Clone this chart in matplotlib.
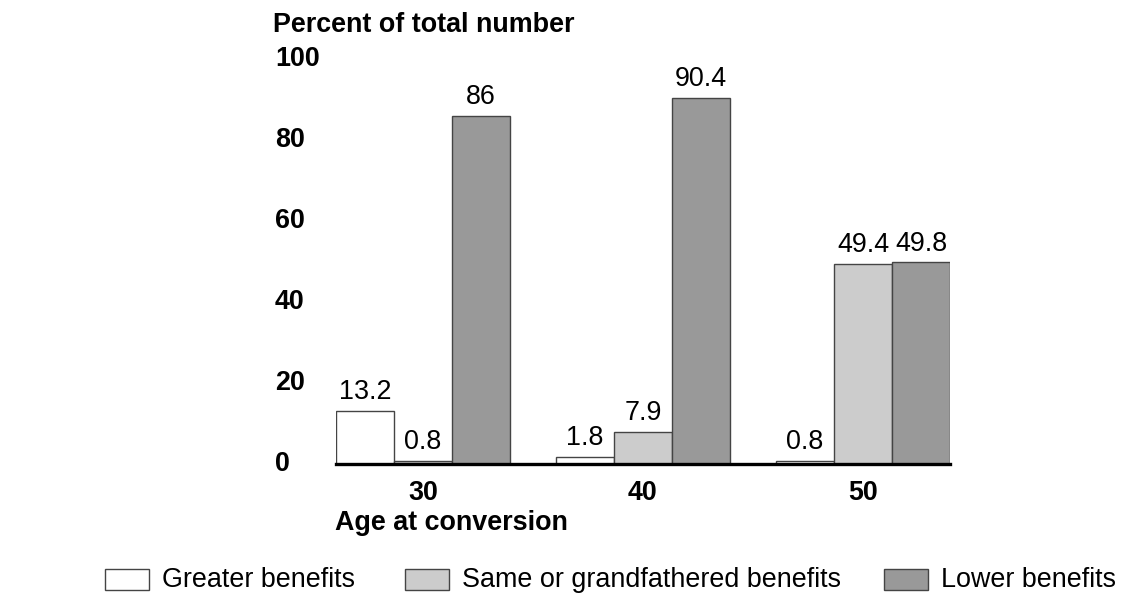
import numpy as np
import matplotlib.pyplot as plt
import matplotlib.transforms as mtransforms
from matplotlib.patches import Rectangle

plt.rcParams['font.family'] = ['Liberation Sans', 'DejaVu Sans']

# data
ages = ['30', '40', '50']
series = ['Greater benefits', 'Same or grandfathered benefits', 'Lower benefits']
greater = [13.2, 1.8, 0.8]
same = [0.8, 7.9, 49.4]
lower = [86, 90.4, 49.8]
y_ticks = [0, 20, 40, 60, 80, 100]

colors = ['#ffffff', '#cccccc', '#999999']
values = [greater, same, lower]

fs = 19.4
W, H = 1123, 596
fig = plt.figure(figsize=(W / 100, H / 100), dpi=100)
ax = fig.add_axes([336 / W, 1 - 464 / H, 614 / W, 405 / H])

w = 58 / 220
x = np.arange(len(ages))
for i, (name, vals, col) in enumerate(zip(series, values, colors)):
    pos = x + (i - 1) * w
    ax.bar(pos, vals, width=w, color=col, edgecolor='#444444', linewidth=1.0,
           label=name, zorder=2)
    for px, v in zip(pos, vals):
        ax.annotate(f'{v:g}', (px, v), xytext=(0, 4), textcoords='offset points',
                    ha='center', va='bottom', fontsize=fs, clip_on=False)

ax.set_xlim(-1.5 * w, 2 + 1.5 * w)
ax.set_ylim(0, 100)
for s in ax.spines.values():
    s.set_visible(False)
ax.axhline(0, color='black', linewidth=2.4, zorder=3, clip_on=False)
ax.set_xticks([])
ax.set_yticks([])

# y tick labels, left aligned
tr = mtransforms.blended_transform_factory(fig.transFigure, ax.transData)
for t in y_ticks:
    ax.text(275 / W, t, str(t), transform=tr, ha='left', va='center',
            fontsize=fs, fontweight='bold')

# x tick labels
trx = mtransforms.blended_transform_factory(ax.transData, fig.transFigure)
for xi, a in zip(x, ages):
    ax.text(xi, 1 - 493 / H, a, transform=trx, ha='center', va='center',
            fontsize=fs, fontweight='bold')

fig.text(273 / W, 1 - 25 / H, 'Percent of total number', ha='left', va='center',
         fontsize=fs, fontweight='bold')
fig.text(335 / W, 1 - 523 / H, 'Age at conversion', ha='left', va='center',
         fontsize=fs, fontweight='bold')

# legend along the bottom
box_x = [105, 405, 884]
for bx, name, col in zip(box_x, series, colors):
    fig.add_artist(Rectangle((bx / W, 1 - 590 / H), 44 / W, 21 / H,
                             transform=fig.transFigure, facecolor=col,
                             edgecolor='#444444', linewidth=1.0))
    fig.text((bx + 57) / W, 1 - 580 / H, name, ha='left', va='center', fontsize=fs)

fig.savefig('out.png', dpi=100)
